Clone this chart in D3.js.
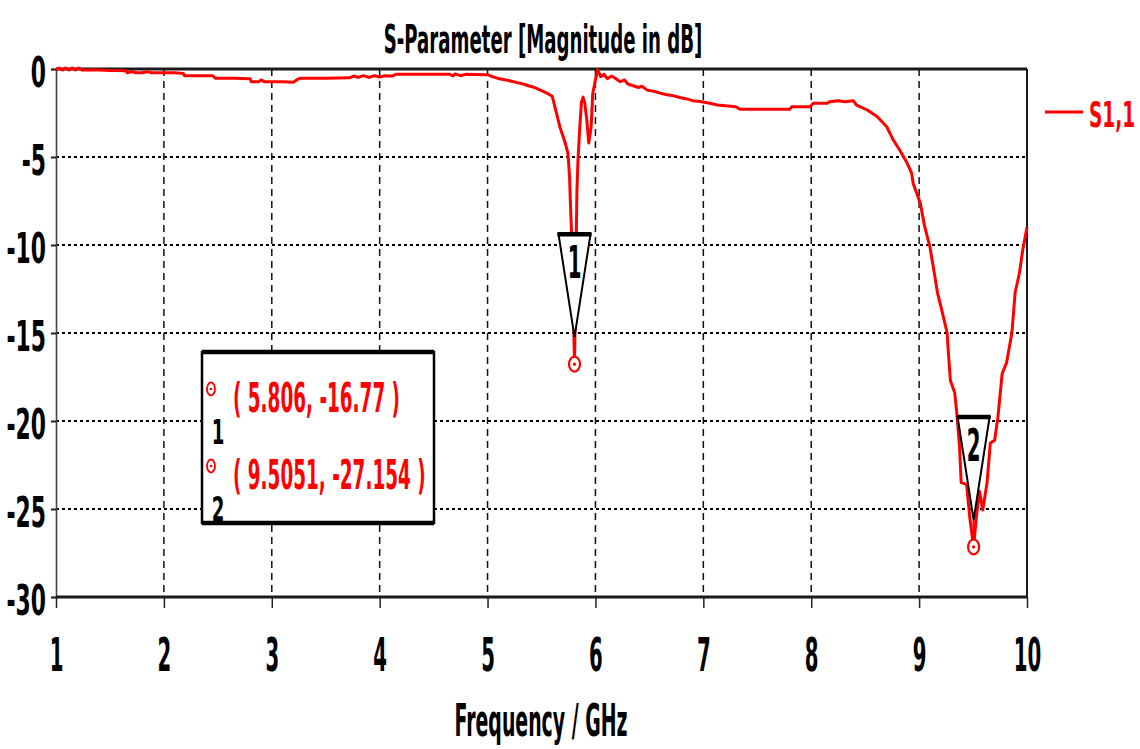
<!DOCTYPE html>
<html>
<head>
<meta charset="utf-8">
<script src="https://cdn.jsdelivr.net/npm/d3@7"></script>
<style>
  html, body { margin: 0; padding: 0; background: #fff; }
  svg { display: block; }
  text { font-family: "DejaVu Sans", sans-serif; font-weight: bold; }
</style>
</head>
<body>
<svg id="chart" width="1140" height="749"></svg>
<script>
// S11 magnitude sweep, 1–10 GHz
const freqGHz = [
  1.000, 1.030, 1.060, 1.090, 1.120, 1.150, 1.180, 1.210, 1.240, 1.300,
  1.400, 1.500, 1.600, 1.650, 1.660, 1.700, 1.740, 1.800, 1.850, 1.880,
  2.000, 2.100, 2.180, 2.190, 2.300, 2.450, 2.480, 2.650, 2.800, 2.810,
  2.880, 2.900, 2.930, 3.100, 3.200, 3.230, 3.260, 3.500, 3.720, 3.760,
  3.800, 3.850, 3.900, 3.950, 4.000, 4.050, 4.120, 4.150, 4.400, 4.650,
  4.680, 4.700, 4.750, 4.800, 5.000, 5.050, 5.110, 5.170, 5.240, 5.290,
  5.330, 5.380, 5.420, 5.490, 5.550, 5.600, 5.630, 5.670, 5.720, 5.745,
  5.760, 5.770, 5.780, 5.792, 5.806, 5.818, 5.828, 5.838, 5.855, 5.870,
  5.885, 5.900, 5.920, 5.938, 5.960, 5.975, 6.000, 6.020, 6.050, 6.080,
  6.110, 6.150, 6.190, 6.230, 6.270, 6.300, 6.350, 6.400, 6.430, 6.480,
  6.550, 6.600, 6.650, 6.710, 6.780, 6.850, 6.900, 6.970, 7.060, 7.130,
  7.300, 7.340, 7.600, 7.800, 7.820, 7.990, 8.020, 8.150, 8.170, 8.250,
  8.310, 8.390, 8.420, 8.520, 8.610, 8.700, 8.760, 8.820, 8.890, 8.930,
  8.945, 9.010, 9.050, 9.100, 9.130, 9.170, 9.210, 9.260, 9.270, 9.290,
  9.330, 9.350, 9.375, 9.390, 9.440, 9.470, 9.5051, 9.530, 9.540, 9.560,
  9.590, 9.630, 9.660, 9.700, 9.730, 9.770, 9.810, 9.860, 9.890, 9.930,
  9.960, 10.000
];
const s11dB = [
  -0.05, 0.06, -0.06, 0.06, -0.06, 0.06, -0.06, 0.06, -0.06, -0.06,
  -0.06, -0.08, -0.08, -0.12, -0.21, -0.14, -0.21, -0.21, -0.15, -0.21,
  -0.21, -0.21, -0.25, -0.38, -0.38, -0.38, -0.53, -0.53, -0.55, -0.72,
  -0.72, -0.62, -0.72, -0.72, -0.75, -0.62, -0.53, -0.53, -0.50, -0.40,
  -0.48, -0.38, -0.48, -0.38, -0.45, -0.38, -0.40, -0.30, -0.30, -0.30,
  -0.40, -0.28, -0.38, -0.30, -0.32, -0.45, -0.55, -0.62, -0.72, -0.80,
  -0.85, -0.95, -1.02, -1.20, -1.37, -1.55, -2.30, -3.28, -4.20, -4.80,
  -6.10, -8.00, -9.50, -12.5, -16.77, -11.5, -7.00, -5.20, -3.30, -1.90,
  -1.60, -1.90, -2.90, -4.20, -3.30, -1.40, -0.60, -0.05, -0.44, -0.30,
  -0.55, -0.40, -0.55, -0.72, -0.62, -0.85, -0.95, -1.05, -0.98, -1.20,
  -1.28, -1.37, -1.45, -1.50, -1.62, -1.70, -1.80, -1.85, -1.95, -2.05,
  -2.14, -2.29, -2.29, -2.29, -2.14, -2.14, -1.95, -1.95, -1.86, -1.80,
  -1.86, -1.80, -2.05, -2.33, -2.70, -3.28, -4.03, -4.60, -5.36, -5.90,
  -6.50, -7.60, -8.90, -10.1, -11.2, -12.7, -13.7, -15.0, -16.0, -17.7,
  -18.4, -19.6, -21.5, -23.5, -23.6, -25.5, -27.154, -25.5, -25.0, -24.0,
  -25.06, -23.5, -21.25, -21.1, -19.8, -17.3, -16.7, -15.0, -12.7, -11.6,
  -10.3, -9.0
];

const xTicks = [1, 2, 3, 4, 5, 6, 7, 8, 9, 10];
const yTicks = [0, -5, -10, -15, -20, -25, -30];

// Markers placed on the trace
const markerIds = ["1", "2"];
const markerFreq = [5.806, 9.5051];
const markerDb = [-16.77, -27.154];

const titleText = "S-Parameter [Magnitude in dB]";
const xTitleText = "Frequency / GHz";
const seriesName = "S1,1";

const RED = "#ff0000";

// ---- layout ----
const svg = d3.select("#chart");
const pLeft = 56, pTop = 69, pRight = 1027, pBottom = 597;

const x = d3.scaleLinear().domain([1, 10]).range([pLeft, pRight]);
const y = d3.scaleLinear().domain([-30, 0]).range([pBottom, pTop]);

// plain ASCII hyphen for negative tick labels
const tickFmt = d => String(d);

// condensed bold text helper (horizontal squeeze around the anchor point)
function ctext(parent, tx, ty, str, size, sx, anchor, fill) {
  return parent.append("text")
    .attr("transform", `translate(${tx},${ty}) scale(${sx},1)`)
    .attr("text-anchor", anchor)
    .attr("font-size", size)
    .attr("fill", fill)
    .text(str);
}

// plot background
svg.append("rect").attr("x", pLeft).attr("y", pTop)
  .attr("width", pRight - pLeft).attr("height", pBottom - pTop).attr("fill", "#fff");

// horizontal dotted grid
svg.append("g").selectAll("line")
  .data(yTicks.filter(d => d !== 0 && d !== -30))
  .join("line")
  .attr("x1", pLeft).attr("x2", pRight)
  .attr("y1", d => y(d)).attr("y2", d => y(d))
  .attr("stroke", "#000").attr("stroke-width", 2)
  .attr("stroke-dasharray", "3,3");

// vertical dashed grid
svg.append("g").selectAll("line")
  .data(xTicks.filter(d => d !== 1 && d !== 10))
  .join("line")
  .attr("x1", d => x(d)).attr("x2", d => x(d))
  .attr("y1", pTop).attr("y2", pBottom)
  .attr("stroke", "#111").attr("stroke-width", 1.5)
  .attr("stroke-dasharray", "7,5");

// y axis
const yAxis = svg.append("g")
  .attr("transform", `translate(${pLeft},0)`)
  .call(d3.axisLeft(y).tickValues(yTicks).tickSize(5).tickFormat(tickFmt));
yAxis.select(".domain").attr("stroke", "#444").attr("stroke-width", 1.6);
yAxis.selectAll(".tick line").attr("stroke", "#222").attr("stroke-width", 2);
yAxis.selectAll(".tick text")
  .attr("x", 0).attr("dy", null).attr("y", 0)
  .attr("transform", "translate(-10,17) scale(0.52,1)")
  .attr("text-anchor", "end")
  .attr("font-size", 42)
  .attr("font-family", "DejaVu Sans")
  .attr("font-weight", "bold")
  .attr("fill", "#000");

// x axis
const xAxis = svg.append("g")
  .attr("transform", `translate(0,${pBottom})`)
  .call(d3.axisBottom(x).tickValues(xTicks).tickSize(11).tickFormat(tickFmt));
xAxis.select(".domain").remove();
xAxis.selectAll(".tick line").attr("stroke", "#222").attr("stroke-width", 1.5);
xAxis.selectAll(".tick text")
  .attr("y", 0).attr("dy", null)
  .attr("transform", "translate(0,74) scale(0.42,1)")
  .attr("text-anchor", "middle")
  .attr("font-size", 47)
  .attr("font-family", "DejaVu Sans")
  .attr("font-weight", "bold")
  .attr("fill", "#000");

// frame: right border thin, top and bottom heavy
svg.append("line").attr("x1", pRight).attr("x2", pRight).attr("y1", pTop).attr("y2", pBottom)
  .attr("stroke", "#000").attr("stroke-width", 1.8);
svg.append("line").attr("x1", pLeft).attr("x2", pRight).attr("y1", pTop).attr("y2", pTop)
  .attr("stroke", "#1a1a1a").attr("stroke-width", 3.2);
svg.append("line").attr("x1", pLeft).attr("x2", pRight).attr("y1", pBottom).attr("y2", pBottom)
  .attr("stroke", "#1a1a1a").attr("stroke-width", 3.2);

// trace
const pts = freqGHz.map((f, i) => [f, s11dB[i]]);
svg.append("path")
  .datum(pts)
  .attr("fill", "none")
  .attr("stroke", RED)
  .attr("stroke-width", 3)
  .attr("stroke-linejoin", "round")
  .attr("d", d3.line().x(d => x(d[0])).y(d => y(d[1])));

// marker flags (triangles) and points on the trace
const mk = svg.append("g");
markerIds.forEach((id, i) => {
  const mx = x(markerFreq[i]), my = y(markerDb[i]);
  const tTop = my - 130, tApex = my - 27, hw = 16;
  mk.append("path")
    .attr("d", `M${mx - hw},${tTop} L${mx + hw},${tTop} L${mx},${tApex} Z`)
    .attr("fill", "#fff").attr("stroke", "#000").attr("stroke-width", 2)
    .attr("stroke-linejoin", "miter");
  mk.append("line")
    .attr("x1", mx - hw - 1).attr("x2", mx + hw + 1)
    .attr("y1", tTop).attr("y2", tTop)
    .attr("stroke", "#000").attr("stroke-width", 4.5);
  ctext(mk, mx, tTop + 44, id, 44, 0.45, "middle", "#000");
  mk.append("line")
    .attr("x1", mx).attr("x2", mx).attr("y1", tApex).attr("y2", my)
    .attr("stroke", RED).attr("stroke-width", 2.2);
  mk.append("ellipse").attr("cx", mx).attr("cy", my).attr("rx", 5.5).attr("ry", 7.5)
    .attr("fill", "#fff").attr("stroke", RED).attr("stroke-width", 2.2);
  mk.append("circle").attr("cx", mx).attr("cy", my).attr("r", 1.6).attr("fill", RED);
});

// marker readout box
const box = svg.append("g");
const bx0 = 202, bx1 = 434, by0 = 352, by1 = 523;
box.append("rect").attr("x", bx0).attr("y", by0)
  .attr("width", bx1 - bx0).attr("height", by1 - by0)
  .attr("fill", "#fff").attr("stroke", "#000").attr("stroke-width", 2.5);
box.append("line").attr("x1", bx0).attr("x2", bx1).attr("y1", by0).attr("y2", by0)
  .attr("stroke", "#000").attr("stroke-width", 4.5);
box.append("line").attr("x1", bx0).attr("x2", bx1).attr("y1", by1).attr("y2", by1)
  .attr("stroke", "#000").attr("stroke-width", 4.5);

const fmt = (f, d) => `( ${f}, ${d} )`;
markerIds.forEach((id, i) => {
  const rowY = 412 + i * 77;
  box.append("ellipse").attr("cx", 211).attr("cy", rowY - 23).attr("rx", 4).attr("ry", 6.5)
    .attr("fill", "#fff").attr("stroke", RED).attr("stroke-width", 1.8);
  box.append("circle").attr("cx", 211).attr("cy", rowY - 23).attr("r", 1.3).attr("fill", RED);
  ctext(box, 218, rowY + 32, id, 33, 0.55, "middle", "#000");
  ctext(box, 233, rowY, fmt(markerFreq[i], markerDb[i]), 40, 0.46, "start", RED);
});

// titles
ctext(svg, 543, 53, titleText, 39, 0.465, "middle", "#000");
ctext(svg, 541, 736, xTitleText, 45, 0.42, "middle", "#000");

// legend
svg.append("line").attr("x1", 1045).attr("x2", 1083).attr("y1", 112).attr("y2", 112)
  .attr("stroke", RED).attr("stroke-width", 3);
ctext(svg, 1089, 127, seriesName, 35, 0.53, "start", RED);
</script>
</body>
</html>
